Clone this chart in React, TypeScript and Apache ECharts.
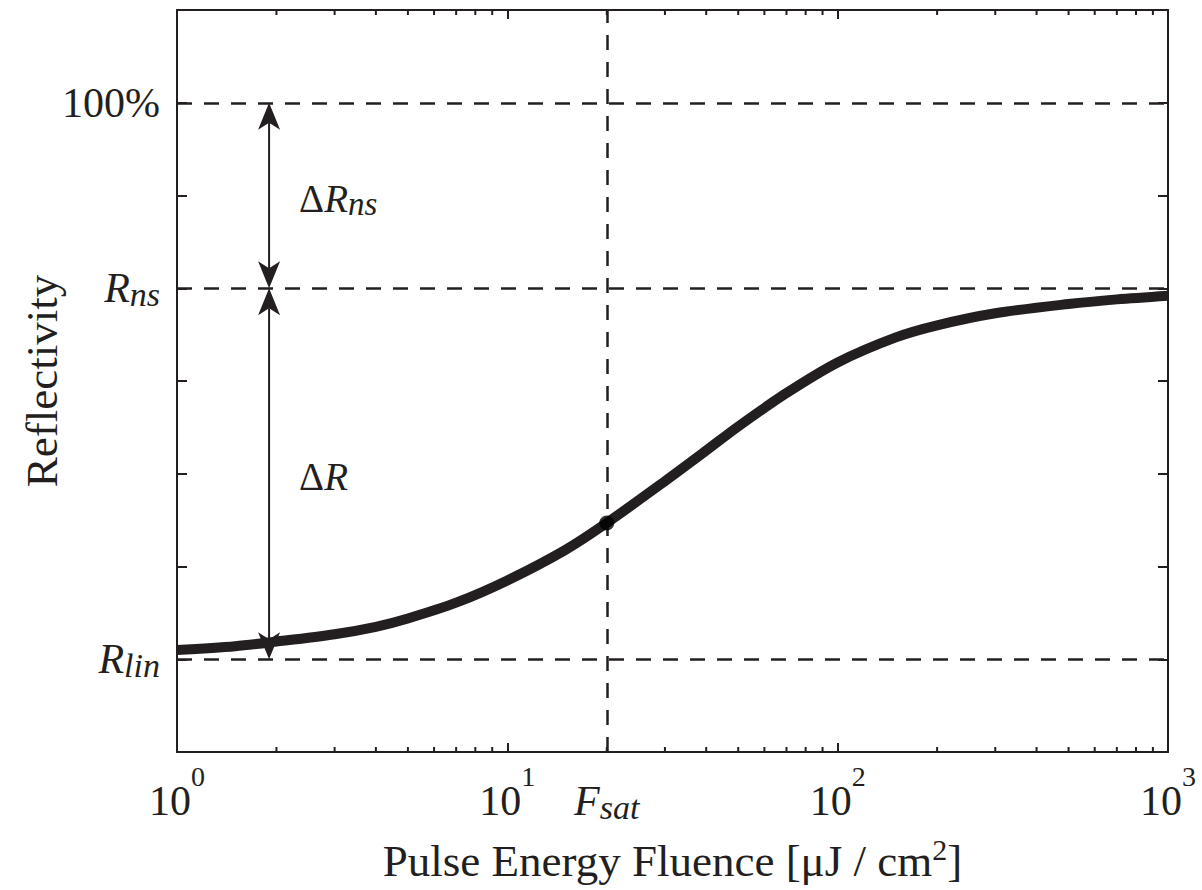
import React, { useEffect, useRef } from "react";
import * as echarts from "echarts";

// ---- data ----
const fluence = [1, 1.5, 2, 3, 4, 5, 7, 10, 15, 20, 30, 40, 50, 70, 100, 150, 200, 300, 500, 700, 1000];
const reflectivity = [1.1, 1.14, 1.19, 1.27, 1.35, 1.44, 1.61, 1.85, 2.18, 2.47, 2.92, 3.25, 3.51, 3.87, 4.2, 4.47, 4.6, 4.73, 4.83, 4.88, 4.92];
const fSat = 20;
const fSatReflectivity = 2.47;
const referenceLevels = [1, 5, 7];
const yMin = 0;
const yMax = 8;
const yTickLabels: Record<number, string> = {
  7: "{n|100%}",
  5: "{i|R}{s|ns}",
  1: "{i|R}{s|lin}",
};
const minorTicks = [2, 3, 4, 5, 6, 7, 8, 9, 20, 30, 40, 50, 60, 70, 80, 90, 200, 300, 400, 500, 600, 700, 800, 900];
const arrowX = 1.9;
const arrowSpans = [
  [7, 5],
  [5, 1],
];
const arrowLabels = ["{d|Δ}{i|R}{s|ns}", "{d|Δ}{i|R}"];
const fSatLabel = "{i|F}{s|sat}";
const xTitle = "{t|Pulse Energy Fluence [μJ / cm}{s|2}{t|]}";
const yTitle = "Reflectivity";

const INK = "#231f20";
const FONT = "'Liberation Serif', 'DejaVu Serif', serif";

export default function App() {
  const ref = useRef<HTMLDivElement>(null);

  useEffect(() => {
    if (!ref.current) return;
    const chart = echarts.init(ref.current, undefined, { renderer: "svg" });

    const yAxisCommon = {
      type: "value",
      min: yMin,
      max: yMax,
      interval: 1,
      axisLine: { show: true, lineStyle: { color: INK, width: 2 } },
      axisTick: { show: true, inside: true, length: 10, lineStyle: { color: INK, width: 2 } },
      splitLine: { show: false },
    };
    const xAxisCommon = {
      type: "log",
      logBase: 10,
      min: 1,
      max: 1000,
      axisLine: { show: true, onZero: false, lineStyle: { color: INK, width: 2 } },
      axisTick: { show: true, inside: true, length: 9, lineStyle: { color: INK, width: 2 } },
      splitLine: { show: false },
      minorTick: { show: false },
    };

    const option: any = {
      animation: false,
      backgroundColor: "#ffffff",
      grid: { left: 177, right: 34, top: 10, bottom: 138, outerBoundsMode: "none", containLabel: false },
      xAxis: [
        {
          ...xAxisCommon,
          position: "bottom",
          name: xTitle,
          nameLocation: "middle",
          nameGap: 82,
          nameMoveOverlap: false,
          nameTextStyle: {
            rich: {
              t: { fontFamily: FONT, fontSize: 45, lineHeight: 45, color: INK, verticalAlign: "top", padding: [4, 0, 0, 0] },
              s: { fontFamily: FONT, fontSize: 30, lineHeight: 30, color: INK, verticalAlign: "top" },
            },
          },
          axisLabel: {
            show: true,
            margin: 10,
            showMinLabel: true,
            showMaxLabel: true,
            hideOverlap: false,
            formatter: (v: number) => `{b|10}{s|${Math.round(Math.log10(v))}}`,
            rich: {
              b: { fontFamily: FONT, fontSize: 42, lineHeight: 42, color: INK, verticalAlign: "top", padding: [18, 0, 0, 0] },
              s: { fontFamily: FONT, fontSize: 28, lineHeight: 28, color: INK, verticalAlign: "top" },
            },
          },
        },
        {
          ...xAxisCommon,
          position: "top",
          axisLabel: { show: false },
        },
      ],
      yAxis: [
        {
          ...yAxisCommon,
          position: "left",
          name: yTitle,
          nameLocation: "middle",
          nameGap: 113,
          nameMoveOverlap: false,
          nameTextStyle: { fontFamily: FONT, fontSize: 45, color: INK },
          axisLabel: {
            show: true,
            margin: 17,
            showMinLabel: true,
            showMaxLabel: true,
            hideOverlap: false,
            formatter: (v: number) => yTickLabels[v] ?? "",
            rich: {
              n: { fontFamily: FONT, fontSize: 42, lineHeight: 42, color: INK, verticalAlign: "top" },
              i: { fontFamily: FONT, fontStyle: "italic", fontSize: 42, lineHeight: 42, color: INK, verticalAlign: "top" },
              s: { fontFamily: FONT, fontStyle: "italic", fontSize: 34, lineHeight: 34, color: INK, verticalAlign: "top", padding: [10, 0, 0, 0] },
            },
          },
        },
        {
          ...yAxisCommon,
          position: "right",
          axisLabel: { show: false },
        },
      ],
      series: [
        {
          type: "line",
          data: fluence.map((f, i) => [f, reflectivity[i]]),
          smooth: 0.3,
          showSymbol: false,
          symbol: "none",
          lineStyle: { color: INK, width: 10, cap: "butt", join: "round" },
          z: 4,
          silent: true,
          markLine: {
            silent: true,
            symbol: ["none", "none"],
            label: { show: false },
            lineStyle: { color: INK, width: 2.5, type: [15, 12] },
            data: [...referenceLevels.map((v) => ({ yAxis: v })), { xAxis: fSat }],
            z: 2,
          },
        },
        {
          type: "scatter",
          data: [[fSat, fSatReflectivity]],
          symbol: "circle",
          symbolSize: 15,
          itemStyle: { color: "#000000" },
          z: 6,
          silent: true,
        },
        {
          type: "custom",
          silent: true,
          z: 3,
          data: minorTicks.map((v) => [v, yMin]),
          renderItem: (_params: any, api: any) => {
            const v = api.value(0);
            const b = api.coord([v, yMin]);
            const t = api.coord([v, yMax]);
            const st = { stroke: INK, lineWidth: 2 };
            return {
              type: "group",
              children: [
                { type: "line", shape: { x1: b[0], y1: b[1], x2: b[0], y2: b[1] - 5 }, style: st },
                { type: "line", shape: { x1: t[0], y1: t[1], x2: t[0], y2: t[1] + 5 }, style: st },
              ],
            };
          },
        },
        {
          type: "custom",
          silent: true,
          z: 5,
          data: arrowSpans.map(([a, b]) => [arrowX, a, b]),
          renderItem: (params: any, api: any) => {
            const x = api.value(0);
            const p1 = api.coord([x, api.value(1)]);
            const p2 = api.coord([x, api.value(2)]);
            const hw = 11;
            const hl = 27;
            const notch = 20;
            const label = arrowLabels[params.dataIndex];
            return {
              type: "group",
              children: [
                {
                  type: "line",
                  shape: { x1: p1[0], y1: p1[1] + notch, x2: p2[0], y2: p2[1] - notch },
                  style: { stroke: INK, lineWidth: 2 },
                },
                {
                  type: "polygon",
                  shape: {
                    points: [
                      [p1[0], p1[1]],
                      [p1[0] + hw, p1[1] + hl],
                      [p1[0], p1[1] + notch],
                      [p1[0] - hw, p1[1] + hl],
                    ],
                  },
                  style: { fill: INK },
                },
                {
                  type: "polygon",
                  shape: {
                    points: [
                      [p2[0], p2[1]],
                      [p2[0] + hw, p2[1] - hl],
                      [p2[0], p2[1] - notch],
                      [p2[0] - hw, p2[1] - hl],
                    ],
                  },
                  style: { fill: INK },
                },
                {
                  type: "text",
                  x: p1[0] + 30,
                  y: (p1[1] + p2[1]) / 2 + 3,
                  style: {
                    text: label,
                    align: "left",
                    verticalAlign: "middle",
                    fill: INK,
                    rich: {
                      d: { fontFamily: FONT, fontSize: 39, lineHeight: 39, fill: INK, verticalAlign: "top" },
                      i: { fontFamily: FONT, fontStyle: "italic", fontSize: 39, lineHeight: 39, fill: INK, verticalAlign: "top" },
                      s: { fontFamily: FONT, fontStyle: "italic", fontSize: 33, lineHeight: 33, fill: INK, verticalAlign: "top", padding: [8, 0, 0, 0] },
                    },
                  },
                },
              ],
            };
          },
        },
        {
          type: "custom",
          silent: true,
          z: 5,
          data: [[fSat, yMin]],
          renderItem: (_params: any, api: any) => {
            const p = api.coord([api.value(0), api.value(1)]);
            return {
              type: "text",
              x: p[0],
              y: p[1] + 10,
              style: {
                text: fSatLabel,
                align: "center",
                verticalAlign: "top",
                fill: INK,
                rich: {
                  i: { fontFamily: FONT, fontStyle: "italic", fontSize: 42, lineHeight: 42, fill: INK, verticalAlign: "top", padding: [18, 0, 0, 0] },
                  s: { fontFamily: FONT, fontStyle: "italic", fontSize: 34, lineHeight: 34, fill: INK, verticalAlign: "top", padding: [28, 0, 0, 0] },
                },
              },
            };
          },
        },
      ],
    };

    chart.setOption(option);
    return () => chart.dispose();
  }, []);

  return (
    <div
      ref={ref}
      style={{ position: "absolute", left: 0, top: 0, width: 1202, height: 890, background: "#fff" }}
    />
  );
}
